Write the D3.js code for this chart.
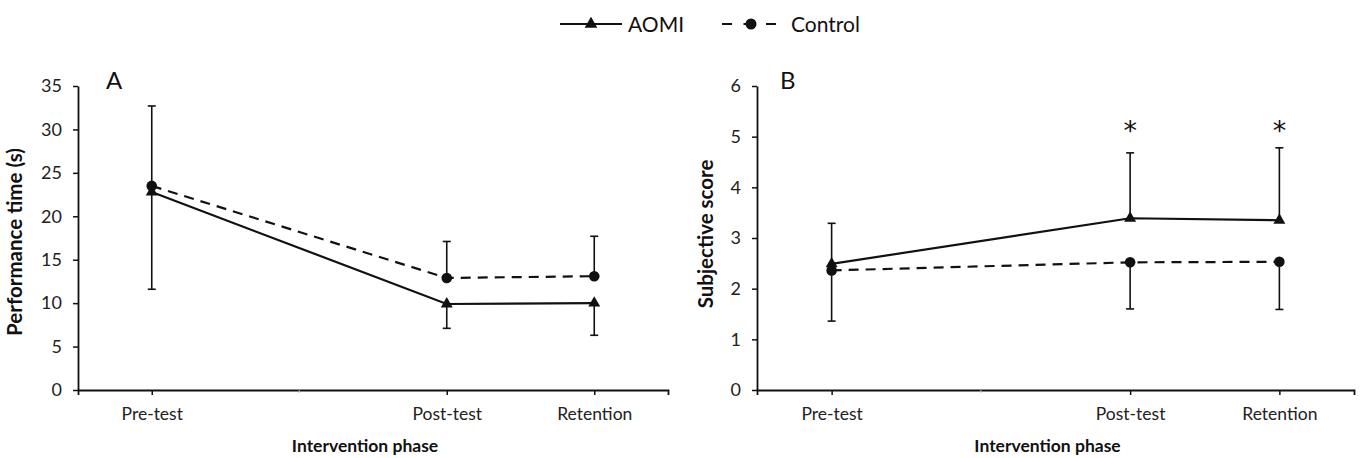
<!DOCTYPE html>
<html>
<head>
<meta charset="utf-8">
<script src="https://cdn.jsdelivr.net/npm/d3@7"></script>
<style>
  html, body { margin: 0; padding: 0; background: #fff; }
  svg { display: block; font-family: Lato, "Open Sans", sans-serif; }
</style>
</head>
<body>
<svg id="chart" width="1361" height="458"></svg>
<script>
// ---------- data ----------
const categories = ["Pre-test", "Post-test", "Retention"];
const phasePositions = [0.5, 2.5, 3.5];

// Panel A: performance time (s)
const timeAOMI = [22.8, 9.9, 10.0];
const timeAOMISD = [11.2, 2.8, 3.7];      // drawn downward
const timeControl = [23.5, 12.9, 13.1];
const timeControlSD = [9.2, 4.2, 4.6];    // drawn upward
const timeTicks = [0, 5, 10, 15, 20, 25, 30, 35];

// Panel B: subjective score
const scoreAOMI = [2.49, 3.39, 3.35];
const scoreAOMISD = [0.80, 1.29, 1.43];   // drawn upward
const scoreControl = [2.36, 2.52, 2.53];
const scoreControlSD = [1.00, 0.92, 0.94]; // drawn downward
const scoreTicks = [0, 1, 2, 3, 4, 5, 6];
const scoreSignificant = [false, true, true];

const seriesNames = ["AOMI", "Control"];

// ---------- drawing ----------
const svg = d3.select("#chart");
const yTop = 86, yBottom = 390;

function panel(opts) {
  const g = svg.append("g");
  const x = d3.scaleLinear().domain([0, 4]).range([opts.x0, opts.x1]);
  const y = d3.scaleLinear().domain([0, opts.yMax]).range([yBottom, yTop]);

  // y axis
  const ya = g.append("g").attr("transform", `translate(${opts.x0},0)`)
    .call(d3.axisLeft(y).tickValues(opts.ticks).tickFormat(d3.format("d"))
      .tickSize(5).tickSizeOuter(0).tickPadding(11));
  ya.select(".domain").attr("stroke", "#111").attr("stroke-width", 1.8);
  ya.selectAll(".tick line").attr("stroke", "#111").attr("stroke-width", 1.5);
  ya.selectAll(".tick text").attr("font-size", 18).attr("fill", "#222")
    .attr("font-family", "Lato, sans-serif");

  // x axis
  const xa = g.append("g").attr("transform", `translate(0,${yBottom})`)
    .call(d3.axisBottom(x).tickValues(phasePositions)
      .tickFormat((d, i) => categories[i]).tickSize(5).tickSizeOuter(5).tickPadding(13));
  xa.select(".domain").attr("stroke", "#111").attr("stroke-width", 1.8);
  xa.selectAll(".tick line").attr("stroke", "#111").attr("stroke-width", 1.5);
  xa.selectAll(".tick text").attr("font-size", 17.5).attr("fill", "#222")
    .attr("font-family", "Lato, sans-serif");
  // faint minor tick
  g.append("line").attr("x1", x(1.5)).attr("x2", x(1.5))
    .attr("y1", yBottom).attr("y2", yBottom + 3).attr("stroke", "#bbb").attr("stroke-width", 1);

  // axis titles
  g.append("text").attr("x", (opts.x0 + opts.x1) / 2 - 8).attr("y", 452)
    .attr("text-anchor", "middle").attr("font-size", 17.5).attr("font-weight", "bold")
    .attr("fill", "#111").text("Intervention phase");
  g.append("text")
    .attr("transform", `translate(${opts.titleX},${opts.titleY}) rotate(-90)`)
    .attr("text-anchor", "middle").attr("font-size", 20.5).attr("font-weight", "bold")
    .attr("fill", "#111").text(opts.yTitle);

  // panel letter
  g.append("text").attr("x", opts.letterX).attr("y", 89)
    .attr("font-size", 24).attr("fill", "#111").text(opts.letter);

  const idx = d3.range(categories.length);

  // error bars
  function errBars(mean, sd, dir) {
    const eg = g.append("g").attr("stroke", "#111").attr("stroke-width", 1.6);
    idx.forEach(i => {
      const cx = x(phasePositions[i]);
      const yEnd = y(mean[i] + dir * sd[i]);
      eg.append("line").attr("x1", cx).attr("x2", cx)
        .attr("y1", y(mean[i])).attr("y2", yEnd);
      eg.append("line").attr("x1", cx - 4).attr("x2", cx + 4)
        .attr("y1", yEnd).attr("y2", yEnd);
    });
  }
  errBars(opts.aomi, opts.aomiSD, opts.aomiDir);
  errBars(opts.control, opts.controlSD, -opts.aomiDir);

  const line = d3.line().x((d, i) => x(phasePositions[i])).y(d => y(d));
  g.append("path").datum(opts.control).attr("d", line)
    .attr("fill", "none").attr("stroke", "#111").attr("stroke-width", 2.2)
    .attr("stroke-dasharray", "10,7");
  g.append("path").datum(opts.aomi).attr("d", line)
    .attr("fill", "none").attr("stroke", "#111").attr("stroke-width", 2.2);

  g.selectAll(".cpt").data(opts.control).enter().append("circle")
    .attr("cx", (d, i) => x(phasePositions[i])).attr("cy", d => y(d))
    .attr("r", 5.3).attr("fill", "#111");
  g.selectAll(".apt").data(opts.aomi).enter().append("path")
    .attr("d", d3.symbol().type(d3.symbolTriangle).size(62))
    .attr("transform", (d, i) => `translate(${x(phasePositions[i])},${y(d)})`)
    .attr("fill", "#111");

  if (opts.sig) {
    idx.filter(i => opts.sig[i]).forEach(i => {
      g.append("text").attr("x", x(phasePositions[i])).attr("y", 140)
        .attr("text-anchor", "middle").attr("font-size", 27)
        .attr("font-family", "DejaVu Sans, sans-serif").attr("fill", "#111").text("*");
    });
  }
}

panel({
  x0: 78, x1: 668, yMax: 35, ticks: timeTicks,
  yTitle: "Performance time (s)", titleX: 22, titleY: 242,
  letter: "A", letterX: 106,
  aomi: timeAOMI, aomiSD: timeAOMISD, aomiDir: -1,
  control: timeControl, controlSD: timeControlSD
});

panel({
  x0: 757, x1: 1354, yMax: 6, ticks: scoreTicks,
  yTitle: "Subjective score", titleX: 713, titleY: 234,
  letter: "B", letterX: 780,
  aomi: scoreAOMI, aomiSD: scoreAOMISD, aomiDir: 1,
  control: scoreControl, controlSD: scoreControlSD,
  sig: scoreSignificant
});

// legend
const lg = svg.append("g");
const ly = 24;
lg.append("line").attr("x1", 560).attr("x2", 622).attr("y1", ly).attr("y2", ly)
  .attr("stroke", "#111").attr("stroke-width", 2.2);
lg.append("path").attr("d", d3.symbol().type(d3.symbolTriangle).size(70))
  .attr("transform", `translate(591,${ly})`).attr("fill", "#111");
lg.append("text").attr("x", 628).attr("y", ly + 7.5).attr("font-size", 21)
  .attr("fill", "#111").text(seriesNames[0]);
lg.append("line").attr("x1", 722).attr("x2", 776).attr("y1", ly).attr("y2", ly)
  .attr("stroke", "#111").attr("stroke-width", 2.2).attr("stroke-dasharray", "10,11.5,11,11.5,10");
lg.append("circle").attr("cx", 751).attr("cy", ly).attr("r", 5.5).attr("fill", "#111");
lg.append("text").attr("x", 791).attr("y", ly + 7.5).attr("font-size", 21)
  .attr("fill", "#111").text(seriesNames[1]);
</script>
</body>
</html>
